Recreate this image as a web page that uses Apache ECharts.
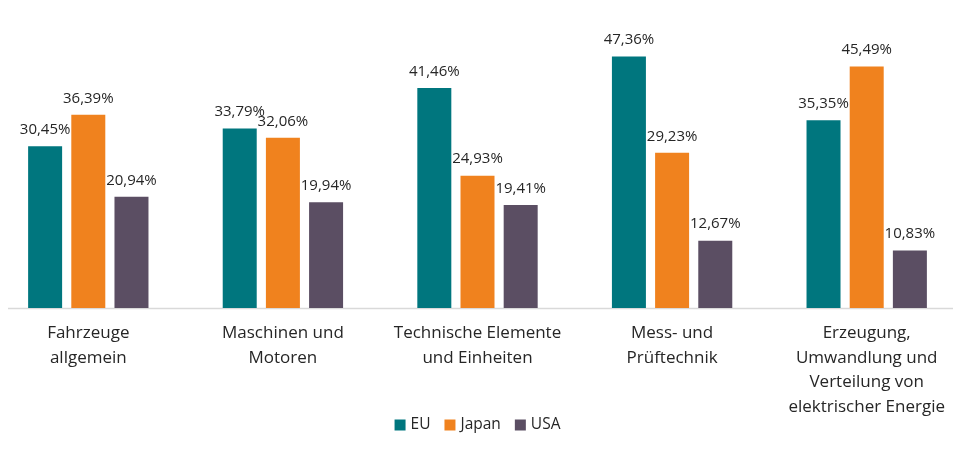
<!DOCTYPE html>
<html>
<head>
<meta charset="utf-8">
<script src="https://cdn.jsdelivr.net/npm/echarts@6/dist/echarts.min.js"></script>
<style>
  html, body { margin: 0; padding: 0; background: #fff; overflow: hidden; }
  /* etwas breiter als das Fenster, damit die Gruppen wie im Original sitzen */
  #chart-bars { width: 973px; height: 468px; margin-left: -9px; }
</style>
</head>
<body>
<div id="chart-bars"></div>
<script>
// Kategorien und Werte (Anteile in %)
let categories = ['Fahrzeuge\nallgemein', 'Maschinen und\nMotoren', 'Technische Elemente\nund Einheiten', 'Mess- und\nPrüftechnik', 'Erzeugung,\nUmwandlung und\nVerteilung von\nelektrischer Energie'];
let seriesNames = ['EU', 'Japan', 'USA'];
let euValues = [30.45, 33.79, 41.46, 47.36, 35.35];
let japanValues = [36.39, 32.06, 24.93, 29.23, 45.49];
let usaValues = [20.94, 19.94, 19.41, 12.67, 10.83];

let colors = ['#00767e', '#f0821e', '#5b4e63'];
let fontName = 'Open Sans';

let barsChart = echarts.init(document.getElementById('chart-bars'));

function makeSeries(name, values) {
    return {
        name: name,
        type: 'bar',
        data: values,
        barWidth: 34,
        barGap: '27%',
        label: {
            show: true,
            position: 'top',
            distance: 9,
            color: '#262626',
            fontFamily: fontName,
            fontSize: 15,
            formatter: function (p) {
                return p.value.toFixed(2).replace('.', ',') + '%'; // deutsches Komma
            }
        }
    };
}

let barsoption = {
    color: colors,
    animation: false,
    textStyle: { fontFamily: fontName },
    legend: {
        data: seriesNames,
        top: 412,
        left: 'center',
        itemWidth: 11,
        itemHeight: 11,
        itemGap: 14,
        icon: 'rect',
        textStyle: { color: '#262626', fontSize: 15.5, fontFamily: fontName }
    },
    grid: {
        left: 0,
        right: 0,
        top: 16,
        bottom: 160,
        containLabel: false
    },
    xAxis: {
        type: 'category',
        data: categories,
        axisLine: { show: false },
        axisTick: { show: false },
        axisLabel: {
            color: '#262626',
            fontSize: 17,
            fontFamily: fontName,
            lineHeight: 24.5,
            margin: 13,
            interval: 0
        }
    },
    yAxis: {
        type: 'value',
        min: 0,
        max: 55,
        show: false,
        splitLine: { show: false }
    },
    // Grundlinie wie im Original (kürzer als das Raster)
    graphic: [{
        type: 'line',
        shape: { x1: 17, y1: 308.5, x2: 962, y2: 308.5 },
        style: { stroke: '#d9d9d9', lineWidth: 1.5 },
        z: 0
    }],
    series: [
        makeSeries('EU', euValues),
        makeSeries('Japan', japanValues),
        makeSeries('USA', usaValues)
    ]
};
barsChart.setOption(barsoption);
</script>
</body>
</html>
